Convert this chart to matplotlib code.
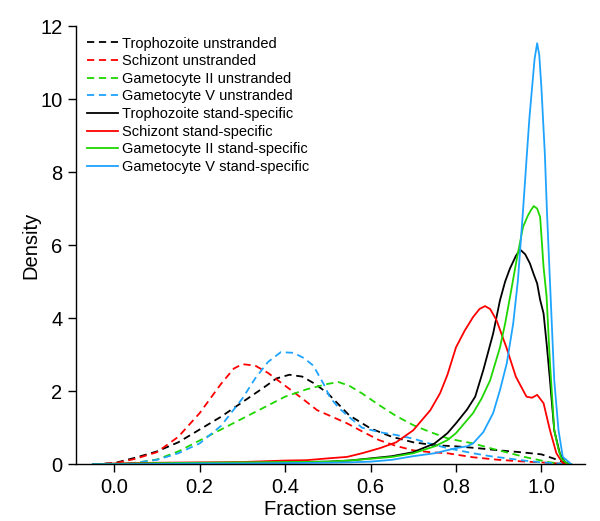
import matplotlib
matplotlib.use("Agg")
import matplotlib.pyplot as plt

plt.rcParams['font.family'] = ['Liberation Sans', 'DejaVu Sans']

# density curves (x = fraction sense, y = density)
troph_un_x = [-0.05, 0.0, 0.05, 0.1, 0.15, 0.2, 0.25, 0.3, 0.35, 0.38, 0.41, 0.44, 0.47, 0.5, 0.55, 0.6, 0.65, 0.7, 0.75, 0.8, 0.85, 0.9, 0.95, 1.0, 1.03, 1.06]
troph_un_y = [0.0, 0.03, 0.18, 0.35, 0.6, 0.95, 1.3, 1.7, 2.1, 2.35, 2.45, 2.4, 2.2, 1.94, 1.34, 0.98, 0.75, 0.6, 0.52, 0.49, 0.44, 0.38, 0.33, 0.27, 0.15, 0.02]

schiz_un_x = [-0.05, 0.0, 0.05, 0.1, 0.15, 0.2, 0.25, 0.28, 0.3, 0.33, 0.36, 0.4, 0.44, 0.475, 0.51, 0.545, 0.58, 0.62, 0.66, 0.7, 0.74, 0.78, 0.84, 0.9, 0.95, 1.0, 1.04, 1.06]
schiz_un_y = [0.0, 0.02, 0.15, 0.33, 0.75, 1.4, 2.2, 2.62, 2.74, 2.7, 2.5, 2.15, 1.8, 1.48, 1.3, 1.12, 0.9, 0.66, 0.5, 0.38, 0.33, 0.3, 0.19, 0.12, 0.08, 0.05, 0.02, 0.0]

gamII_un_x = [-0.05, 0.0, 0.04, 0.1, 0.15, 0.2, 0.25, 0.3, 0.35, 0.4, 0.45, 0.5, 0.525, 0.55, 0.58, 0.62, 0.66, 0.7, 0.74, 0.78, 0.8, 0.84, 0.88, 0.92, 0.96, 1.0, 1.02, 1.05, 1.07]
gamII_un_y = [0.0, 0.0, 0.02, 0.13, 0.35, 0.65, 0.95, 1.25, 1.55, 1.85, 2.05, 2.2, 2.25, 2.15, 1.94, 1.62, 1.32, 1.07, 0.88, 0.71, 0.66, 0.57, 0.44, 0.32, 0.2, 0.1, 0.05, 0.01, 0.0]

gamV_un_x = [-0.05, 0.0, 0.05, 0.1, 0.15, 0.2, 0.25, 0.3, 0.33, 0.36, 0.39, 0.42, 0.445, 0.466, 0.49, 0.505, 0.525, 0.545, 0.58, 0.62, 0.66, 0.7, 0.74, 0.78, 0.84, 0.88, 0.92, 0.96, 1.0, 1.04, 1.06]
gamV_un_y = [0.0, 0.0, 0.04, 0.12, 0.3, 0.57, 1.05, 1.8, 2.35, 2.8, 3.07, 3.05, 2.9, 2.7, 2.2, 1.83, 1.55, 1.34, 1.0, 0.88, 0.8, 0.7, 0.56, 0.44, 0.3, 0.22, 0.16, 0.1, 0.05, 0.02, 0.0]

troph_ss_x = [-0.05, 0.0, 0.1, 0.2, 0.3, 0.4, 0.5, 0.55, 0.6, 0.65, 0.7, 0.75, 0.78, 0.8, 0.826, 0.845, 0.864, 0.887, 0.903, 0.915, 0.926, 0.94, 0.95, 0.962, 0.973, 0.982, 0.99, 0.997, 1.005, 1.013, 1.02, 1.03, 1.043, 1.055, 1.065]
troph_ss_y = [0.0, 0.01, 0.02, 0.03, 0.04, 0.05, 0.07, 0.1, 0.16, 0.22, 0.33, 0.57, 0.85, 1.12, 1.5, 1.85, 2.58, 3.58, 4.49, 5.0, 5.35, 5.7, 5.88, 5.75, 5.5, 5.2, 4.95, 4.5, 4.13, 3.2, 2.3, 0.93, 0.3, 0.06, 0.0]

schiz_ss_x = [-0.05, 0.0, 0.1, 0.2, 0.3, 0.35, 0.4, 0.45, 0.47, 0.5, 0.545, 0.58, 0.622, 0.66, 0.7, 0.74, 0.763, 0.78, 0.8, 0.82, 0.84, 0.855, 0.868, 0.88, 0.895, 0.918, 0.94, 0.965, 0.978, 0.99, 1.005, 1.02, 1.035, 1.05, 1.065]
schiz_ss_y = [0.0, 0.02, 0.04, 0.05, 0.06, 0.08, 0.1, 0.11, 0.13, 0.16, 0.2, 0.3, 0.44, 0.6, 0.93, 1.48, 1.95, 2.45, 3.2, 3.65, 4.03, 4.25, 4.33, 4.25, 3.94, 3.2, 2.4, 1.85, 1.82, 1.9, 1.67, 0.93, 0.3, 0.03, 0.0]

gamII_ss_x = [-0.05, 0.0, 0.1, 0.2, 0.3, 0.4, 0.5, 0.55, 0.6, 0.65, 0.7, 0.75, 0.78, 0.8, 0.84, 0.86, 0.88, 0.903, 0.915, 0.926, 0.942, 0.957, 0.968, 0.975, 0.982, 0.99, 0.997, 1.005, 1.012, 1.02, 1.03, 1.04, 1.047, 1.06, 1.07]
gamII_ss_y = [0.0, 0.01, 0.03, 0.04, 0.05, 0.06, 0.07, 0.1, 0.15, 0.2, 0.3, 0.49, 0.66, 0.85, 1.4, 1.8, 2.3, 3.2, 3.85, 4.55, 5.6, 6.5, 6.8, 6.95, 7.07, 7.0, 6.77, 5.4, 4.6, 2.77, 0.93, 0.4, 0.15, 0.02, 0.0]

gamV_ss_x = [-0.05, 0.0, 0.1, 0.2, 0.3, 0.4, 0.5, 0.55, 0.6, 0.65, 0.7, 0.75, 0.8, 0.826, 0.84, 0.864, 0.887, 0.903, 0.919, 0.934, 0.945, 0.957, 0.966, 0.972, 0.978, 0.984, 0.99, 0.995, 1.0, 1.008, 1.013, 1.02, 1.03, 1.04, 1.05, 1.07]
gamV_ss_y = [0.0, 0.0, 0.01, 0.02, 0.02, 0.03, 0.04, 0.05, 0.07, 0.12, 0.22, 0.3, 0.44, 0.49, 0.57, 0.88, 1.4, 2.03, 2.77, 3.86, 5.04, 6.96, 8.5, 9.5, 10.3, 11.1, 11.53, 11.2, 10.3, 8.5, 6.9, 5.0, 2.3, 0.93, 0.2, 0.0]

labels = ['Trophozoite unstranded', 'Schizont unstranded', 'Gametocyte II unstranded',
          'Gametocyte V unstranded', 'Trophozoite stand-specific', 'Schizont stand-specific',
          'Gametocyte II stand-specific', 'Gametocyte V stand-specific']
colors = ['black', '#FF0000', '#1ED700', '#1EA4FF']

series = [
    (troph_un_x, troph_un_y), (schiz_un_x, schiz_un_y),
    (gamII_un_x, gamII_un_y), (gamV_un_x, gamV_un_y),
    (troph_ss_x, troph_ss_y), (schiz_ss_x, schiz_ss_y),
    (gamII_ss_x, gamII_ss_y), (gamV_ss_x, gamV_ss_y),
]

fig = plt.figure(figsize=(6.0, 5.21), dpi=100)
ax = fig.add_axes([0.127, 0.109, 0.848, 0.841])

for i, (xs, ys) in enumerate(series):
    dashed = i < 4
    ax.plot(xs, ys, color=colors[i % 4], lw=1.3,
            linestyle=(0, (4, 2.6)) if dashed else '-', label=labels[i])

ax.set_xlim(-0.089, 1.102)
ax.set_ylim(0, 12)
ax.set_xticks([0.0, 0.2, 0.4, 0.6, 0.8, 1.0])
ax.set_xticklabels(['0.0', '0.2', '0.4', '0.6', '0.8', '1.0'])
ax.set_yticks([0, 2, 4, 6, 8, 10, 12])
ax.spines['top'].set_visible(False)
ax.spines['right'].set_visible(False)
for s in ['left', 'bottom']:
    ax.spines[s].set_linewidth(1.0)
ax.tick_params(direction='out', length=6, width=1.0, labelsize=14.5, pad=4)
ax.set_xlabel('Fraction sense', fontsize=14.5, labelpad=2)
ax.set_ylabel('Density', fontsize=14.5, labelpad=0)

ax.legend(loc='upper left', bbox_to_anchor=(-0.004, 1.006), frameon=False, fontsize=10.5,
          handlelength=2.1, handletextpad=0.3, labelspacing=0.25, borderaxespad=0.5)

fig.savefig('out.png', dpi=100)
